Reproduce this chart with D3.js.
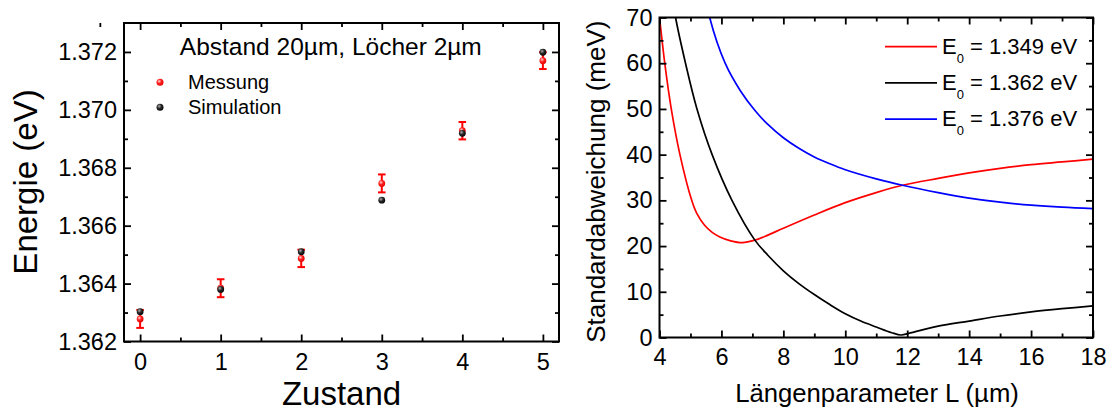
<!DOCTYPE html>
<html><head><meta charset="utf-8">
<script src="https://cdn.jsdelivr.net/npm/d3@7"></script>
<style>
body{margin:0;background:#fff}
svg text{font-family:"Liberation Sans",Arial,Helvetica,sans-serif;fill:#000}
</style>
</head><body>
<svg id="fig" width="1113" height="412"></svg>
<script>
// ---- left panel: energies per state ----
const zustand = [0, 1, 2, 3, 4, 5];
const messung = [1.36278, 1.36384, 1.36487, 1.36746, 1.36928, 1.37170];
const messungFehler = [0.00031, 0.00031, 0.00030, 0.00031, 0.00030, 0.00029];
const simulation = [1.36303, 1.36380, 1.36510, 1.36688, 1.36919, 1.37199];
const zustandTicks = [0, 1, 2, 3, 4, 5];
const zustandMinor = [-0.5, 0.5, 1.5, 2.5, 3.5, 4.5];
const energieTicks = [1.362, 1.364, 1.366, 1.368, 1.370, 1.372];
const energieMinor = [1.363, 1.365, 1.367, 1.369, 1.371];

// ---- right panel: standard deviation vs. length parameter ----
const laengeRot = [3.95, 4.0, 4.17, 4.38, 4.66, 5.04, 5.2, 5.45, 5.7, 5.95, 6.3, 6.68, 7.08, 7.5, 8.0, 9.0, 10.0, 11.0, 11.85, 13.0, 14.0, 15.0, 16.0, 17.0, 18.0];
const abwRot    = [73, 70, 60, 50, 40, 30, 27.2, 24.6, 23.0, 22.0, 21.15, 20.75, 21.3, 22.4, 23.9, 26.8, 29.5, 31.7, 33.3, 34.8, 36.0, 37.0, 37.8, 38.4, 39.0];
const laengeSchwarz = [4.4, 4.52, 4.84, 5.21, 5.7, 6.34, 7.08, 7.5, 8.0, 8.5, 9.0, 9.5, 10.0, 10.5, 11.0, 11.5, 11.8, 12.1, 13.0, 14.0, 15.0, 16.0, 17.0, 18.0];
const abwSchwarz    = [76, 70, 60, 50, 40, 30, 21.3, 18.0, 14.6, 11.8, 9.4, 7.2, 5.2, 3.6, 2.3, 1.05, 0.55, 1.0, 2.5, 3.6, 4.7, 5.6, 6.3, 6.9];
const laengeBlau = [5.45, 5.62, 6.12, 6.6, 7.09, 7.5, 8.0, 8.5, 9.0, 9.5, 10.0, 11.0, 11.85, 13.0, 14.0, 15.0, 16.0, 17.0, 18.0];
const abwBlau    = [76, 70, 60, 54.1, 49.6, 46.6, 43.7, 41.4, 39.5, 38.0, 36.7, 34.7, 33.3, 31.7, 30.5, 29.6, 28.95, 28.5, 28.2];
const kurvenNamen = ["1.349", "1.362", "1.376"];
const kurvenFarben = ["#ff0000", "#000000", "#0000ff"];
const laengeTicks = [4, 6, 8, 10, 12, 14, 16, 18];
const laengeMinor = [5, 7, 9, 11, 13, 15, 17];
const abwTicks = [0, 10, 20, 30, 40, 50, 60, 70];
const abwMinor = [5, 15, 25, 35, 45, 55, 65];

const svg = d3.select("#fig");
const defs = svg.append("defs");

function sphere(id, hi, mid, lo) {
  const g = defs.append("radialGradient").attr("id", id)
    .attr("cx", "38%").attr("cy", "35%").attr("r", "70%");
  g.append("stop").attr("offset", "0%").attr("stop-color", hi);
  g.append("stop").attr("offset", "45%").attr("stop-color", mid);
  g.append("stop").attr("offset", "100%").attr("stop-color", lo);
}
sphere("kugelRot", "#ffd6d6", "#ff2020", "#e00000");
sphere("kugelSchwarz", "#b0b0b0", "#2a2a2a", "#000000");

// Draws a framed box with inward major/minor ticks on all four sides.
function frame(g, x, y, o) {
  const [x0, x1] = x.range(), [y0, y1] = y.range();
  const styleAxis = sel => {
    sel.select(".domain").remove();
    sel.selectAll("line").attr("stroke", "#000").attr("stroke-width", 1.8);
    sel.selectAll("text").attr("font-size", o.fs).attr("fill", "#000")
      .style("font-family", '"Liberation Sans",Arial,sans-serif');
  };
  const add = (axis, tf) => g.append("g").attr("transform", tf).call(axis).call(styleAxis);
  add(d3.axisBottom(x).tickValues(o.xt).tickSize(-7).tickPadding(o.xpad).tickFormat(o.xf), `translate(0,${y0})`);
  add(d3.axisBottom(x).tickValues(o.xm).tickSize(-4).tickFormat(""), `translate(0,${y0})`);
  add(d3.axisTop(x).tickValues(o.xt).tickSize(-7).tickFormat(""), `translate(0,${y1})`);
  add(d3.axisTop(x).tickValues(o.xm).tickSize(-4).tickFormat(""), `translate(0,${y1})`);
  add(d3.axisLeft(y).tickValues(o.yt).tickSize(-7).tickPadding(o.ypad).tickFormat(o.yf), `translate(${x0},0)`);
  add(d3.axisLeft(y).tickValues(o.ym).tickSize(-4).tickFormat(""), `translate(${x0},0)`);
  add(d3.axisRight(y).tickValues(o.yt).tickSize(-7).tickFormat(""), `translate(${x1},0)`);
  add(d3.axisRight(y).tickValues(o.ym).tickSize(-4).tickFormat(""), `translate(${x1},0)`);
  g.append("rect").attr("x", x0).attr("y", y1).attr("width", x1 - x0).attr("height", y0 - y1)
    .attr("fill", "none").attr("stroke", "#000").attr("stroke-width", 2);
}

// ---------- left panel ----------
const xL = d3.scaleLinear().domain([-0.2, 5.2]).range([124, 559]);
const yL = d3.scaleLinear().domain([1.362, 1.373]).range([341.5, 23]);
const gL = svg.append("g");

// measured values with error bars
const gM = gL.append("g");
zustand.forEach((z, i) => {
  const cx = xL(z), lo = yL(messung[i] - messungFehler[i]), hi = yL(messung[i] + messungFehler[i]);
  gM.append("line").attr("x1", cx).attr("x2", cx).attr("y1", lo).attr("y2", hi)
    .attr("stroke", "#ff0000").attr("stroke-width", 2);
  [lo, hi].forEach(yy => gM.append("line").attr("x1", cx - 3.8).attr("x2", cx + 3.8)
    .attr("y1", yy).attr("y2", yy).attr("stroke", "#ff0000").attr("stroke-width", 2));
});
gM.selectAll("circle").data(zustand).join("circle")
  .attr("cx", d => xL(d)).attr("cy", (d, i) => yL(messung[i])).attr("r", 3.4)
  .attr("fill", "url(#kugelRot)");
gL.append("g").selectAll("circle").data(zustand).join("circle")
  .attr("cx", d => xL(d)).attr("cy", (d, i) => yL(simulation[i])).attr("r", 3.4)
  .attr("fill", "url(#kugelSchwarz)");

frame(gL, xL, yL, {
  xt: zustandTicks, xm: zustandMinor, yt: energieTicks, ym: energieMinor,
  xf: d3.format("d"), yf: d3.format(".3f"), fs: 23.5, xpad: 12, ypad: 7
});

gL.append("text").attr("x", 330.8).attr("y", 55).attr("text-anchor", "middle")
  .attr("font-size", 24.5).text("Abstand 20µm, Löcher 2µm");
const legL = [["Messung", "url(#kugelRot)"], ["Simulation", "url(#kugelSchwarz)"]];
legL.forEach(([t, f], i) => {
  gL.append("circle").attr("cx", 160).attr("cy", 82.3 + 25 * i).attr("r", 3.5).attr("fill", f);
  gL.append("text").attr("x", 188).attr("y", 89.3 + 25 * i).attr("font-size", 20).text(t);
});
gL.append("text").attr("x", 341.5).attr("y", 405).attr("text-anchor", "middle")
  .attr("font-size", 33).text("Zustand");
gL.append("text").attr("transform", "translate(37,182) rotate(-90)").attr("text-anchor", "middle")
  .attr("font-size", 33).text("Energie (eV)");

// ---------- right panel ----------
const xR = d3.scaleLinear().domain([4, 18]).range([659.5, 1093]);
const yR = d3.scaleLinear().domain([0, 70]).range([337.5, 17.5]);
const gR = svg.append("g");
defs.append("clipPath").attr("id", "plotR").append("rect")
  .attr("x", 659.5).attr("y", 17.5).attr("width", 1093 - 659.5).attr("height", 320);

const kurven = [[laengeRot, abwRot], [laengeSchwarz, abwSchwarz], [laengeBlau, abwBlau]];
const line = d3.line().x(d => xR(d[0])).y(d => yR(d[1])).curve(d3.curveCatmullRom.alpha(0.5));
const gC = gR.append("g").attr("clip-path", "url(#plotR)");
kurven.forEach(([xs, ys], k) => {
  gC.append("path").datum(xs.map((v, i) => [v, ys[i]])).attr("d", line)
    .attr("fill", "none").attr("stroke", kurvenFarben[k]).attr("stroke-width", 1.7);
});

frame(gR, xR, yR, {
  xt: laengeTicks, xm: laengeMinor, yt: abwTicks, ym: abwMinor,
  xf: d3.format("d"), yf: d3.format("d"), fs: 23.5, xpad: 11, ypad: 7
});

kurvenNamen.forEach((n, k) => {
  const yy = 46.7 + 36.2 * k;
  gR.append("line").attr("x1", 885).attr("x2", 937).attr("y1", yy).attr("y2", yy)
    .attr("stroke", kurvenFarben[k]).attr("stroke-width", 1.7);
  const t = gR.append("text").attr("x", 942).attr("y", yy + 6.8).attr("font-size", 22);
  t.append("tspan").text("E");
  t.append("tspan").attr("font-size", 13).attr("dy", 9.5).text("0");
  t.append("tspan").attr("dy", -9.5).text(` = ${n} eV`);
});

gR.append("text").attr("x", 877).attr("y", 401.7).attr("text-anchor", "middle")
  .attr("font-size", 25.7).text("Längenparameter L (µm)");
gR.append("text").attr("transform", "translate(605,181.7) rotate(-90)").attr("text-anchor", "middle")
  .attr("font-size", 26).text("Standardabweichung (meV)");
</script>
</body></html>
